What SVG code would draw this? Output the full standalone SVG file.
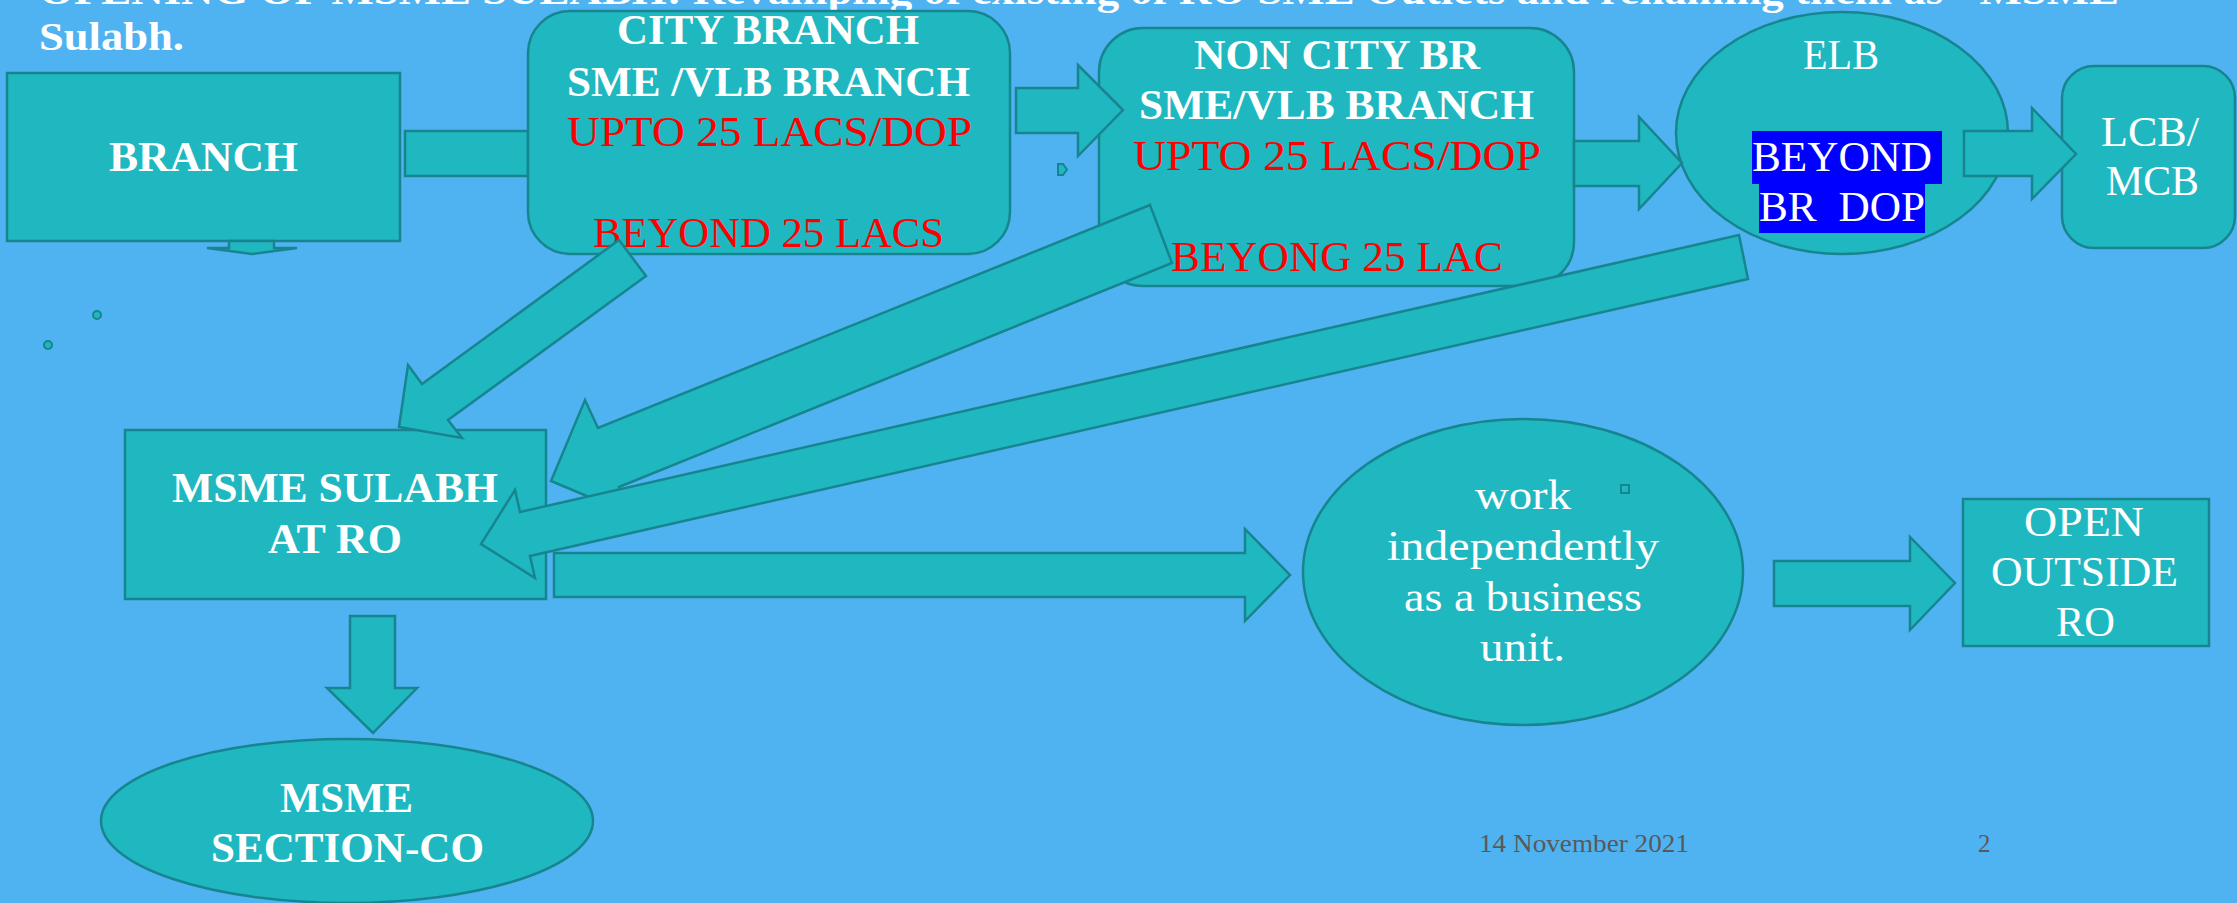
<svg xmlns="http://www.w3.org/2000/svg" width="2237" height="903" viewBox="0 0 2237 903">
  <defs>
    <style>
      .shape { fill: #1FB8C1; stroke: #17858F; stroke-width: 2.5; }
      .arrow { fill: #1FB8C1; stroke: #17858F; stroke-width: 2.5; stroke-linejoin: miter; }
      .dot { fill: #1FB8C1; stroke: #17858F; stroke-width: 2; }
      .t { font-family: "Liberation Serif", "DejaVu Serif", serif; text-anchor: middle; }
      .wb { fill: #FFFFFF; font-weight: bold; font-size: 42px; }
      .w { fill: #FFFFFF; font-size: 42px; }
      .r { fill: #FF0000; font-size: 42px; }
      .foot { font-family: "Liberation Serif", "DejaVu Serif", serif; fill: #595959; font-size: 25px; }
    </style>
  </defs>

  <!-- page -->
  <rect x="0" y="0" width="2237" height="903" fill="#4FB3F1"/>

  <!-- heading (partly above the page edge) -->
  <g id="heading">
    <text x="39" y="4" font-family="Liberation Serif, DejaVu Serif, serif" font-weight="bold" font-size="40" fill="#FFFFFF" textLength="2080" lengthAdjust="spacingAndGlyphs">OPENING OF MSME SULABH: Revamping of existing of RO SME Outlets and renaming them as  "MSME</text>
    <text x="39" y="50" font-family="Liberation Serif, DejaVu Serif, serif" font-weight="bold" font-size="40" fill="#FFFFFF" textLength="145" lengthAdjust="spacingAndGlyphs">Sulabh.</text>
  </g>

  <!-- connector drawn under the boxes -->
  <g id="connectors-back">
    <rect class="arrow" x="405" y="131" width="123" height="45"/>
  </g>

  <!-- nodes -->
  <g id="branch">
    <rect class="shape" x="7" y="73" width="393" height="168"/>
    <polygon class="shape" points="229,241 274,241 274,248 297,248 252,254 207,248 229,248"/>
    <text class="t wb" x="203.5" y="171" textLength="189" lengthAdjust="spacingAndGlyphs">BRANCH</text>
  </g>

  <g id="city-branch">
    <rect class="shape" x="528" y="11" width="482" height="243" rx="42" ry="42"/>
    <text class="t wb" x="768" y="44" textLength="302" lengthAdjust="spacingAndGlyphs">CITY BRANCH</text>
    <text class="t wb" x="768.5" y="96" textLength="403" lengthAdjust="spacingAndGlyphs">SME /VLB BRANCH</text>
    <text class="t r" x="769.5" y="146" textLength="405" lengthAdjust="spacingAndGlyphs">UPTO 25 LACS/DOP</text>
    <text class="t r" x="768.5" y="247" textLength="351" lengthAdjust="spacingAndGlyphs">BEYOND 25 LACS</text>
  </g>

  <g id="non-city-branch">
    <rect class="shape" x="1099" y="28" width="475" height="258" rx="44" ry="44"/>
    <text class="t wb" x="1337" y="69" textLength="286" lengthAdjust="spacingAndGlyphs">NON CITY BR</text>
    <text class="t wb" x="1336.5" y="119" textLength="395" lengthAdjust="spacingAndGlyphs">SME/VLB BRANCH</text>
    <text class="t r" x="1337" y="170" textLength="408" lengthAdjust="spacingAndGlyphs">UPTO 25 LACS/DOP</text>
    <text class="t r" x="1337" y="271" textLength="332" lengthAdjust="spacingAndGlyphs">BEYONG 25 LAC</text>
  </g>

  <g id="elb">
    <ellipse class="shape" cx="1842" cy="133" rx="166" ry="121"/>
    <text class="t w" x="1841" y="69" textLength="76" lengthAdjust="spacingAndGlyphs">ELB</text>
    <rect x="1752" y="131" width="190" height="53" fill="#0000FF"/>
    <rect x="1759" y="184" width="166" height="49" fill="#0000FF"/>
    <text class="t w" x="1842" y="171" textLength="180" lengthAdjust="spacingAndGlyphs">BEYOND</text>
    <text class="t w" x="1842" y="221" xml:space="preserve" textLength="166" lengthAdjust="spacingAndGlyphs">BR  DOP</text>
  </g>

  <g id="lcb-mcb">
    <rect class="shape" x="2062" y="66" width="173" height="182" rx="32" ry="32"/>
    <text class="t w" x="2150" y="146" textLength="98" lengthAdjust="spacingAndGlyphs">LCB/</text>
    <text class="t w" x="2152.5" y="195" textLength="93" lengthAdjust="spacingAndGlyphs">MCB</text>
  </g>

  <g id="msme-sulabh">
    <rect class="shape" x="125" y="430" width="421" height="169"/>
    <text class="t wb" x="335" y="502" textLength="326" lengthAdjust="spacingAndGlyphs">MSME SULABH</text>
    <text class="t wb" x="335" y="553" textLength="134" lengthAdjust="spacingAndGlyphs">AT RO</text>
  </g>

  <g id="business-unit">
    <ellipse class="shape" cx="1523" cy="572" rx="220" ry="153"/>
    <rect class="dot" x="1621" y="485" width="8" height="8"/>
    <text class="t w" x="1523" y="509" textLength="96" lengthAdjust="spacingAndGlyphs">work</text>
    <text class="t w" x="1523" y="560" textLength="272" lengthAdjust="spacingAndGlyphs">independently</text>
    <text class="t w" x="1523" y="611" textLength="238" lengthAdjust="spacingAndGlyphs">as a business</text>
    <text class="t w" x="1522.5" y="661" textLength="85" lengthAdjust="spacingAndGlyphs">unit.</text>
  </g>

  <g id="open-outside-ro">
    <rect class="shape" x="1963" y="499" width="246" height="147"/>
    <text class="t w" x="2084" y="536" textLength="120" lengthAdjust="spacingAndGlyphs">OPEN</text>
    <text class="t w" x="2084.5" y="586" textLength="187" lengthAdjust="spacingAndGlyphs">OUTSIDE</text>
    <text class="t w" x="2085.5" y="636" textLength="59" lengthAdjust="spacingAndGlyphs">RO</text>
  </g>

  <g id="msme-section-co">
    <ellipse class="shape" cx="347" cy="821" rx="246" ry="82"/>
    <text class="t wb" x="346.5" y="812" textLength="133" lengthAdjust="spacingAndGlyphs">MSME</text>
    <text class="t wb" x="347.5" y="862" textLength="273" lengthAdjust="spacingAndGlyphs">SECTION-CO</text>
  </g>

  <!-- block-arrow connectors -->
  <g id="connectors">
    <polygon class="arrow" points="1016,88 1078,88 1078,65 1123,110 1078,156 1078,133 1016,133"/>
    <polygon class="arrow" points="1574,141 1639,141 1639,117 1682,163 1639,209 1639,186 1574,186"/>
    <polygon class="arrow" points="1964,131 2032,131 2032,108 2076,154 2032,199 2032,176 1964,176"/>
    <polygon class="arrow" points="619,240 646,276 448,420 462,438 399,427 408,365 422,384"/>
    <polygon class="arrow" points="1150,205 1172,263 619,487 632,515 551,481 585,400 598,428"/>
    <polygon class="arrow" points="1739,235 1748,279 530,556 535,578 481,544 515,490 520,512"/>
    <polygon class="arrow" points="554,553 1245,553 1245,529 1290,575 1245,621 1245,597 554,597"/>
    <polygon class="arrow" points="1774,561 1910,561 1910,537 1955,583 1910,630 1910,606 1774,606"/>
    <polygon class="arrow" points="350,616 395,616 395,688 417,688 373,733 327,688 350,688"/>
  </g>

  <!-- small stray marks -->
  <g id="marks">
    <circle class="dot" cx="97" cy="315" r="4"/>
    <circle class="dot" cx="48" cy="345" r="4"/>
    <polygon class="dot" points="1058,164 1063,164 1067,169.5 1063,175 1058,175"/>
  </g>

  <!-- footer -->
  <g id="footer">
    <text class="foot" x="1479" y="852" textLength="210" lengthAdjust="spacingAndGlyphs">14 November 2021</text>
    <text class="foot" x="1978" y="852">2</text>
  </g>
</svg>
